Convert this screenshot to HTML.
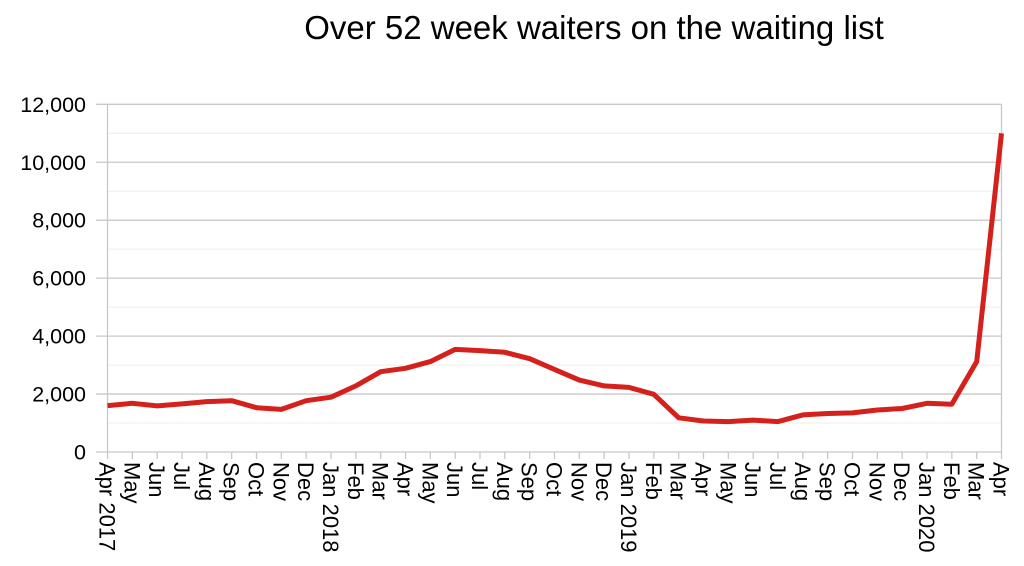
<!DOCTYPE html>
<html><head><meta charset="utf-8"><style>
html,body{margin:0;padding:0;background:#fff;}
svg{display:block;font-family:"Liberation Sans",Arial,sans-serif;}
</style></head><body>
<svg id="chart" width="1024" height="566" viewBox="0 0 1024 566" xmlns="http://www.w3.org/2000/svg">
<text x="594" y="39" font-size="33" text-anchor="middle" fill="#000">Over 52 week waiters on the waiting list</text>
<g id="grid"></g>
<g id="yaxis"></g>
<g id="xaxis"></g>
<g id="series"></g>
</svg>
<script>
const categories = ["Apr 2017","May","Jun","Jul","Aug","Sep","Oct","Nov","Dec","Jan 2018","Feb","Mar","Apr","May","Jun","Jul","Aug","Sep","Oct","Nov","Dec","Jan 2019","Feb","Mar","Apr","May","Jun","Jul","Aug","Sep","Oct","Nov","Dec","Jan 2020","Feb","Mar","Apr"];
const values = [1600,1680,1590,1660,1740,1770,1530,1470,1770,1890,2280,2770,2890,3120,3540,3500,3440,3220,2850,2480,2280,2230,1990,1180,1070,1050,1100,1050,1280,1330,1350,1450,1500,1680,1650,3120,11000];
const yTicks = [0,2000,4000,6000,8000,10000,12000];
const yTickLabels = ["0","2,000","4,000","6,000","8,000","10,000","12,000"];
const minorTicks = [1000,3000,5000,7000,9000,11000];

const NS="http://www.w3.org/2000/svg";
const X0=107.5,X1=1001.5,Y0=452,Y1=104.3,YMAX=12000;
function xPos(i){return X0+(X1-X0)*i/(categories.length-1);}
function yPos(v){return Y0-(Y0-Y1)*v/YMAX;}
function mk(tag,attrs,parent){const e=document.createElementNS(NS,tag);for(const k in attrs)e.setAttribute(k,attrs[k]);parent.appendChild(e);return e;}
const grid=document.getElementById('grid'),ya=document.getElementById('yaxis'),xa=document.getElementById('xaxis'),ser=document.getElementById('series');
minorTicks.forEach(v=>{
  const l=mk('line',{x1:X0,x2:X1,y1:yPos(v),y2:yPos(v),stroke:'#ececec','stroke-width':1},grid);
  
  
});
yTicks.forEach((v,i)=>{
  const l=mk('line',{x1:96,x2:X1,y1:yPos(v),y2:yPos(v),stroke:'#c8c8c8','stroke-width':1.3},grid);
  
  
  const t=mk('text',{x:86,y:yPos(v)+7.5,'font-size':21.5,'text-anchor':'end',fill:'#000'},ya);
  t.textContent=yTickLabels[i];
  
  
});
const ax=mk('line',{x1:X0,x2:X0,y1:Y1,y2:Y0,stroke:'#c8c8c8','stroke-width':1.3},ya);


const rx=mk('line',{x1:X1,x2:X1,y1:Y1,y2:Y0,stroke:'#c8c8c8','stroke-width':1.3},grid);


categories.forEach((c,i)=>{
  const x=xPos(i);
  const tk=mk('line',{x1:x,x2:x,y1:Y0,y2:Y0+7,stroke:'#c8c8c8','stroke-width':1.3},xa);
  
  
  const t=mk('text',{x:0,y:0,'font-size':22,fill:'#000',transform:`translate(${x-8},462) rotate(90)`},xa);
  t.textContent=c;
  
  
});
const pts=values.map((v,i)=>xPos(i).toFixed(1)+','+yPos(v).toFixed(1)).join(' ');
const pl=mk('polyline',{points:pts,fill:'none',stroke:'#d4211b','stroke-width':5,'stroke-linejoin':'round'},ser);


</script>
</body></html>
